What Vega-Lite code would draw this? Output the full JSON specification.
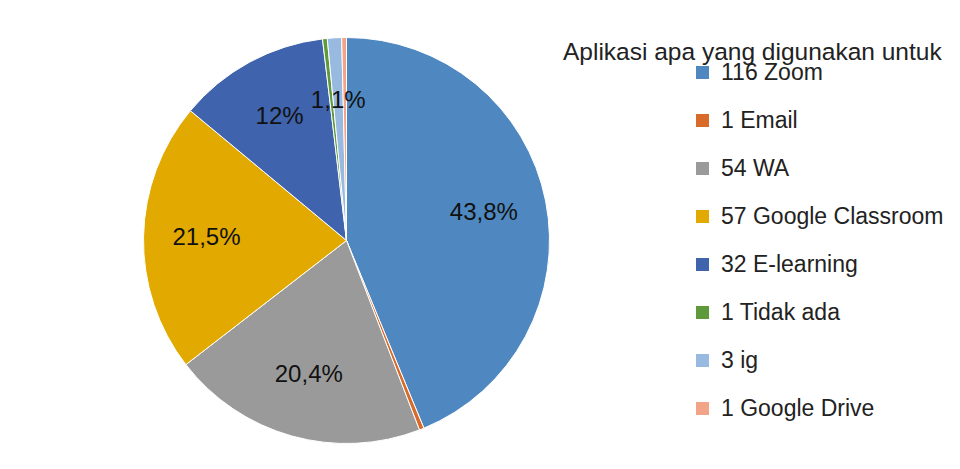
{
  "$schema": "https://vega.github.io/schema/vega-lite/v6.json",
  "width": 673,
  "height": 465,
  "autosize": {"type": "none"},
  "padding": {"left": 10, "top": 8, "right": 277, "bottom": 0},
  "background": "white",
  "config": {"view": {"stroke": null}, "font": "Liberation Sans"},
  "title": {
    "text": "Aplikasi apa yang digunakan untuk",
    "anchor": "start",
    "frame": "group",
    "orient": "top",
    "dx": 553,
    "offset": -76,
    "limit": 600,
    "baseline": "alphabetic",
    "fontSize": 24.5,
    "fontWeight": "normal",
    "color": "#222222",
    "font": "Liberation Sans"
  },
  "data": {
    "values": [
      {"app": "116 Zoom", "count": 116, "order": 1, "label": "43,8%"},
      {"app": "1 Email", "count": 1, "order": 2, "label": ""},
      {"app": "54 WA", "count": 54, "order": 3, "label": "20,4%"},
      {"app": "57 Google Classroom", "count": 57, "order": 4, "label": "21,5%"},
      {"app": "32 E-learning", "count": 32, "order": 5, "label": "12%"},
      {"app": "1 Tidak ada", "count": 1, "order": 6, "label": ""},
      {"app": "3 ig", "count": 3, "order": 7, "label": "1,1%"},
      {"app": "1 Google Drive", "count": 1, "order": 8, "label": ""}
    ]
  },
  "encoding": {
    "theta": {"field": "count", "type": "quantitative", "stack": true},
    "order": {"field": "order", "type": "quantitative"}
  },
  "layer": [
    {
      "mark": {"type": "arc", "radius": 203, "stroke": "#ffffff", "strokeWidth": 1},
      "encoding": {
        "color": {
          "field": "app",
          "type": "nominal",
          "sort": ["116 Zoom", "1 Email", "54 WA", "57 Google Classroom", "32 E-learning", "1 Tidak ada", "3 ig", "1 Google Drive"],
          "scale": {
            "domain": ["116 Zoom", "1 Email", "54 WA", "57 Google Classroom", "32 E-learning", "1 Tidak ada", "3 ig", "1 Google Drive"],
            "range": ["#4F88C0", "#D86B2A", "#9A9A9A", "#E2A900", "#3F63AC", "#5E9A3C", "#98B9E0", "#F2A488"]
          },
          "legend": {
            "orient": "none",
            "legendX": 681,
            "legendY": 53,
            "title": null,
            "padding": 0,
            "labelFont": "Liberation Sans",
            "labelFontSize": 23,
            "labelColor": "#222222",
            "labelLimit": 400,
            "labelOffset": 7,
            "symbolType": "square",
            "symbolSize": 169,
            "symbolStrokeWidth": 0,
            "rowPadding": 24
          }
        }
      }
    },
    {
      "mark": {"type": "text", "radius": 140, "fontSize": 24, "color": "#111111", "font": "Liberation Sans"},
      "encoding": {"text": {"field": "label", "type": "nominal"}}
    }
  ]
}
